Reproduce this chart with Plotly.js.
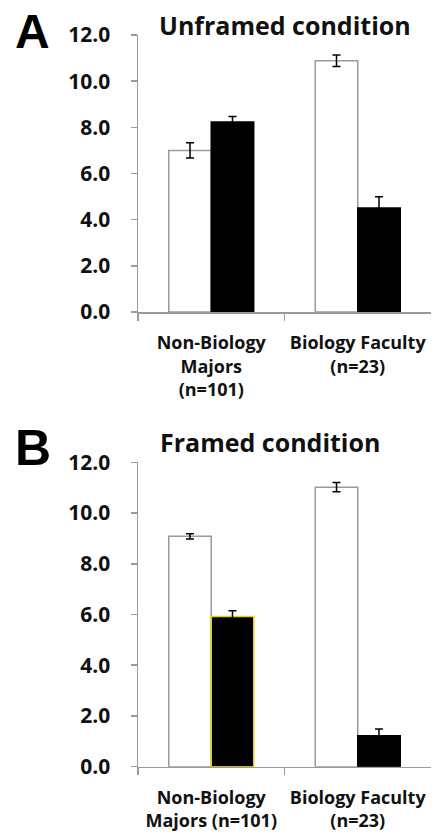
<!DOCTYPE html>
<html>
<head>
<meta charset="utf-8">
<script src="https://cdn.plot.ly/plotly-3.0.1.min.js"></script>
<style>html,body{margin:0;padding:0;background:#fff;}#chart{width:433px;height:836px;}</style>
</head>
<body>
<div id="chart"></div>
<script>
// Data
const categoriesA = ["Non-Biology<br>Majors<br>(n=101)", "Biology Faculty<br>(n=23)"];
const categoriesB = ["Non-Biology<br>Majors (n=101)", "Biology Faculty<br>(n=23)"];
const unframedWhite = [7.0, 10.88];
const unframedWhiteErr = [0.33, 0.25];
const unframedBlack = [8.23, 4.51];
const unframedBlackErr = [0.24, 0.48];
const framedWhite = [9.08, 11.02];
const framedWhiteErr = [0.1, 0.18];
const framedBlack = [5.92, 1.22];
const framedBlackErr = [0.23, 0.27];
const yTicks = [0, 2, 4, 6, 8, 10, 12];

const FONT = "'Open Sans', Lato, sans-serif";
const GRAY = "#9a9a9a";

function whiteTrace(x, y, err, xa, ya) {
  return {type: "bar", x: x, y: y, xaxis: xa, yaxis: ya, showlegend: false,
    marker: {color: "#ffffff", line: {color: GRAY, width: 1.5}},
    error_y: {type: "data", array: err, visible: true, color: "#000", thickness: 1.5, width: 4}};
}
function blackTrace(x, y, err, xa, ya, lineColors) {
  return {type: "bar", x: x, y: y, xaxis: xa, yaxis: ya, showlegend: false,
    marker: {color: "#000000", line: {color: lineColors, width: 1.5}},
    error_y: {type: "data", array: err, visible: true, color: "#000", thickness: 1.5, width: 4}};
}

const data = [
  whiteTrace(categoriesA, unframedWhite, unframedWhiteErr, "x", "y"),
  blackTrace(categoriesA, unframedBlack, unframedBlackErr, "x", "y", ["#000", "#000"]),
  whiteTrace(categoriesB, framedWhite, framedWhiteErr, "x2", "y2"),
  blackTrace(categoriesB, framedBlack, framedBlackErr, "x2", "y2", ["#e8d200", "#000"])
];

const W = 433, H = 836;
const xDom = [138 / W, 431 / W];
const yDomA = [(H - 312) / H, (H - 35) / H];
const yDomB = [(H - 766.7) / H, (H - 462.3) / H];

function xAxis(anchor) {
  return {domain: xDom, anchor: anchor, type: "category", range: [-0.5, 1.5],
    showline: true, linecolor: GRAY, linewidth: 1.5, showgrid: false, zeroline: false,
    ticks: "outside", tickson: "boundaries", ticklen: 7, tickcolor: GRAY, tickwidth: 1.5,
    tickangle: 0,
    tickfont: {family: FONT, size: 18, color: "#111", weight: "bold"}, ticklabelstandoff: 14,
    fixedrange: true};
}
function yAxis(anchor, dom) {
  return {domain: dom, anchor: anchor, range: [0, 12], tickvals: yTicks,
    ticktext: yTicks.map(v => v.toFixed(1)),
    showline: true, linecolor: GRAY, linewidth: 1.5, showgrid: false, zeroline: false,
    ticks: "outside", ticklen: 6, tickcolor: GRAY, tickwidth: 1.5,
    tickfont: {family: FONT, size: 21, color: "#111", weight: "bold"}, ticklabelstandoff: 16,
    fixedrange: true};
}

const layout = {
  width: W, height: H, margin: {l: 0, r: 0, t: 0, b: 0},
  paper_bgcolor: "#fff", plot_bgcolor: "#fff",
  barmode: "group", bargap: 0.42, bargroupgap: 0,
  xaxis: xAxis("y"), yaxis: yAxis("x", yDomA),
  xaxis2: xAxis("y2"), yaxis2: yAxis("x2", yDomB),
  annotations: [
    {text: "Unframed condition", x: 285 / W, y: 1 - 25 / H, xref: "paper", yref: "paper",
     xanchor: "center", yanchor: "middle", showarrow: false,
     font: {family: FONT, size: 25, color: "#111", weight: "bold"}},
    {text: "Framed condition", x: 270 / W, y: 1 - 442 / H, xref: "paper", yref: "paper",
     xanchor: "center", yanchor: "middle", showarrow: false,
     font: {family: FONT, size: 25, color: "#111", weight: "bold"}},
    {text: "A", x: 32 / W, y: 1 - 32 / H, xref: "paper", yref: "paper",
     xanchor: "center", yanchor: "middle", showarrow: false,
     font: {family: "Liberation Sans, Arial, sans-serif", size: 48, color: "#000", weight: "bold"}},
    {text: "B", x: 33 / W, y: 1 - 448 / H, xref: "paper", yref: "paper",
     xanchor: "center", yanchor: "middle", showarrow: false,
     font: {family: "Liberation Sans, Arial, sans-serif", size: 50, color: "#000", weight: "bold"}}
  ]
};

Plotly.newPlot("chart", data, layout, {displayModeBar: false, staticPlot: true});
</script>
</body>
</html>
